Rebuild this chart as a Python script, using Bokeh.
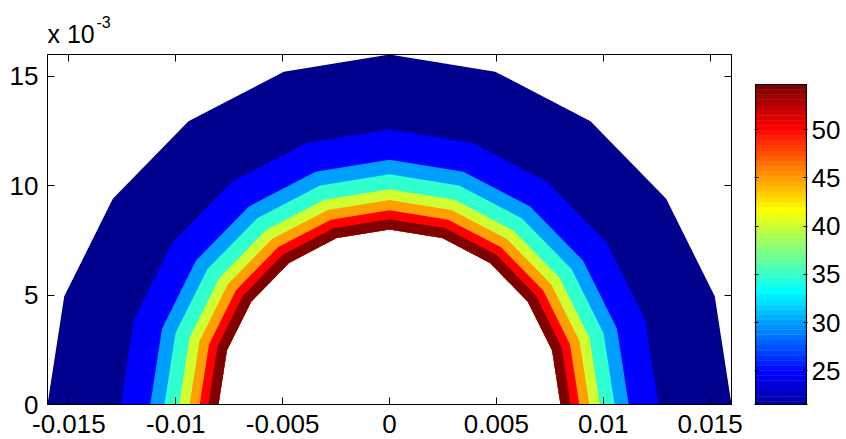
import numpy as np
from bokeh.plotting import figure
from bokeh.layouts import row
from bokeh.models import Range1d, LinearAxis, FixedTicker, CustomJSTickFormatter, Title
from bokeh.embed import file_html
from bokeh.resources import INLINE

# ---------------- data ----------------
angles_deg = [0, 18, 36, 54, 72, 90, 108, 126, 144, 162, 180]   # angular grid nodes
r_inner = 0.008                                                 # hole radius
# outer radius of each filled band (outermost first) and the value that colours it
band_outer_radius = [0.016, 0.01257, 0.01119, 0.01053, 0.00984, 0.00935, 0.00888, 0.00847]
band_value = [20.7, 25, 30, 35, 40, 45, 50, 55]
c_min, c_max = 20.77, 54.7                                      # colour axis limits
x_ticks = [-0.015, -0.01, -0.005, 0, 0.005, 0.01, 0.015]
y_ticks = [0, 0.005, 0.01, 0.015]
cb_ticks = [25, 30, 35, 40, 45, 50]

FONT = "Liberation Sans"
TICK_FS = "26px"

# ---------------- layout (pixels) ----------------
H = 439
TOP, BOTTOM = 54, 35            # frame 54..404
FRAME_TOP_PX, FRAME_BOT_PX = TOP, H - BOTTOM
BAR_TOP_PX, BAR_BOT_PX = 84, 411


def jet(m=64):
    n = int(np.ceil(m / 4))
    u = np.concatenate([np.arange(1, n + 1) / n, np.ones(n - 1), np.arange(n, 0, -1) / n])
    g = int(np.ceil(n / 2)) - (1 if m % 4 == 1 else 0) + np.arange(1, len(u) + 1)
    r = g + n
    b = g - n
    J = np.zeros((m, 3))
    for ch, idx in enumerate([r, g, b]):
        ok = (idx >= 1) & (idx <= m)
        J[idx[ok] - 1, ch] = u[ok]
    return ["#%02x%02x%02x" % tuple(int(round(c * 255)) for c in rowc) for rowc in J]


JET = jet(64)


def color_of(v):
    i = int(np.floor((v - c_min) / (c_max - c_min) * 64))
    return JET[max(0, min(63, i))]


def style_axis(ax, tick_len, labels=True, size=TICK_FS, standoff=4, line=True):
    ax.major_tick_in = tick_len
    ax.major_tick_out = 0
    ax.minor_tick_line_color = None
    ax.axis_line_color = "black" if line else None
    ax.major_tick_line_color = "black"
    ax.major_label_text_font = FONT
    if labels:
        ax.major_label_text_color = "black"
        ax.major_label_text_font_size = size
        ax.major_label_standoff = standoff
    else:
        ax.major_label_text_color = None
        ax.major_label_text_font_size = "1px"
        ax.major_label_standoff = 0


# ---------------- main contour plot ----------------
p = figure(width=745, height=H, title=None,
           x_range=Range1d(-0.016, 0.016), y_range=Range1d(0, 0.016),
           output_backend="svg", toolbar_location=None,
           min_border_left=47, min_border_right=14, min_border_top=TOP, min_border_bottom=BOTTOM,
           background_fill_color="white", border_fill_color="white")
p.grid.visible = False
p.outline_line_color = "black"

th = np.radians(np.array(angles_deg, dtype=float))
xs, ys, cols = [], [], []
for r_out, v in zip(band_outer_radius, band_value):
    ox, oy = r_out * np.cos(th), r_out * np.sin(th)
    ix, iy = r_inner * np.cos(th[::-1]), r_inner * np.sin(th[::-1])
    xs.append(list(np.concatenate([ox, ix])))
    ys.append(list(np.concatenate([oy, iy])))
    cols.append(color_of(v))
p.patches(xs, ys, fill_color=cols, line_color=None)

p.xaxis.ticker = FixedTicker(ticks=x_ticks)
p.xaxis.formatter = CustomJSTickFormatter(code="return String(parseFloat(tick.toFixed(3)));")
style_axis(p.xaxis[0], 7, True, TICK_FS, 10)
p.xaxis.major_label_text_line_height = 0.7
p.yaxis.ticker = FixedTicker(ticks=y_ticks)
p.yaxis.formatter = CustomJSTickFormatter(code="return (tick*1000).toFixed(0);")
style_axis(p.yaxis[0], 7, True, TICK_FS, 9)

top_ax = LinearAxis(ticker=FixedTicker(ticks=x_ticks))
style_axis(top_ax, 7, False)
p.add_layout(top_ax, "above")
right_ax = LinearAxis(ticker=FixedTicker(ticks=y_ticks))
style_axis(right_ax, 7, False)
p.add_layout(right_ax, "right")

# exponent note "x 10^-3" above the top-left corner
p.add_layout(Title(text="x 10", align="left", offset=0, standoff=13,
                   text_font=FONT, text_font_size="25px", text_font_style="normal",
                   text_color="black"), "above")
p.add_layout(Title(text="-3", align="left", offset=49, standoff=-33,
                   text_font=FONT, text_font_size="16px", text_font_style="normal",
                   text_color="black"), "above")

# ---------------- colour bar ----------------
px_per_unit = (BAR_BOT_PX - BAR_TOP_PX) / (c_max - c_min)
cb_lo = c_min + (BAR_BOT_PX - FRAME_BOT_PX) / px_per_unit
cb_hi = c_max + (BAR_TOP_PX - FRAME_TOP_PX) / px_per_unit

cb = figure(width=101, height=H, title=None,
            x_range=Range1d(-0.02, 1.02), y_range=Range1d(cb_lo, cb_hi),
            output_backend="svg", toolbar_location=None,
            x_axis_location="below", y_axis_location="right",
            min_border_left=9, min_border_right=39, min_border_top=TOP, min_border_bottom=BOTTOM,
            background_fill_color="white", border_fill_color="white")
cb.grid.visible = False
cb.outline_line_color = None
step = (c_max - c_min) / 64.0
bottoms = [c_min + i * step for i in range(64)]
tops = [c_min + (i + 1) * step for i in range(64)]
cb.quad(left=0, right=1, bottom=bottoms, top=tops, fill_color=JET, line_color=JET, line_width=0.5)
cb.quad(left=[0], right=[1], bottom=[c_min], top=[c_max], fill_color=None,
        line_color="black", line_width=1.2)

cb.xaxis.ticker = FixedTicker(ticks=[])
style_axis(cb.xaxis[0], 0, False)
cb.yaxis.ticker = FixedTicker(ticks=cb_ticks)
style_axis(cb.yaxis[0], 4, True, TICK_FS, 4, line=False)
left_cb = LinearAxis(ticker=FixedTicker(ticks=cb_ticks))
style_axis(left_cb, 4, False, line=False)
cb.add_layout(left_cb, "left")

layout = row(p, cb)
open("out.html", "w").write(file_html(layout, INLINE))
